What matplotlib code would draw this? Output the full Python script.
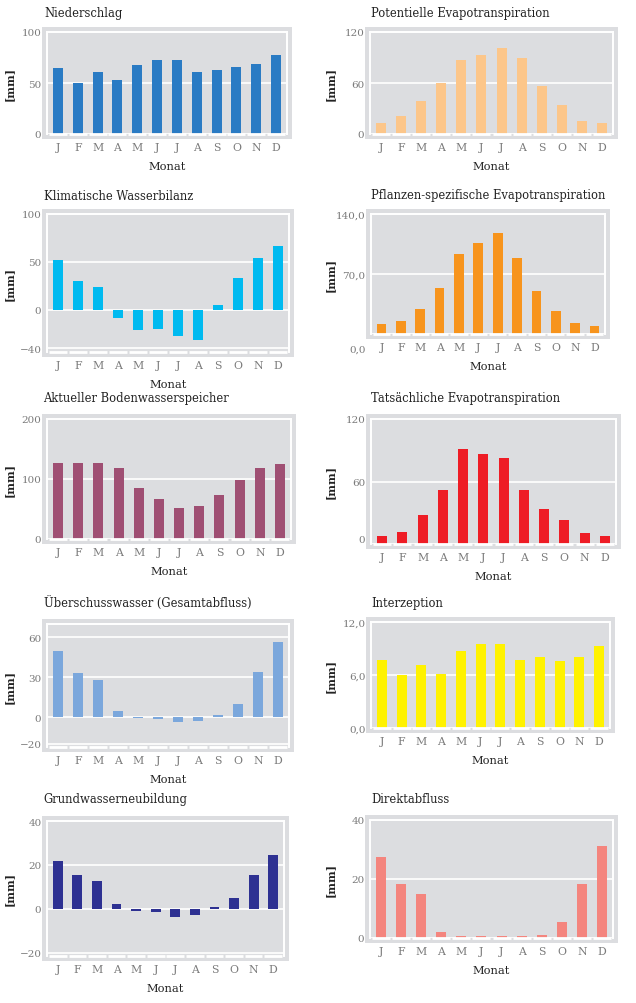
import matplotlib
matplotlib.use("Agg")
import matplotlib.pyplot as plt
import matplotlib.transforms as mtransforms
from matplotlib.patches import Rectangle

plt.rcParams['font.family'] = ['DejaVu Serif']

months = ["J", "F", "M", "A", "M", "J", "J", "A", "S", "O", "N", "D"]

niederschlag = [65, 50, 61, 53, 68, 73, 73, 61, 62.5, 66, 69, 77.5]
pot_evapo = [12.6, 21, 39, 60, 87, 93, 101, 90, 57, 34, 15.7, 12.6]
klim_wasserbilanz = [52, 30, 24, -9, -21, -19.5, -27, -31, 5, 33, 54, 67]
pflanzen_evapo = [11.5, 14.6, 29.2, 53.5, 93.5, 106.5, 117.7, 88.8, 49.6, 27.3, 12.7, 9.6]
bodenwasser = [127, 127, 127, 117.6, 85, 66.7, 51.5, 54.3, 73.4, 98.6, 117.6, 125]
tats_evapo = [7.7, 11.9, 28, 52.3, 91.6, 86.1, 82.3, 52.3, 33.5, 22.9, 10.6, 7.7]
ueberschuss = [50, 33, 27.7, 4.5, -1, -1.8, -3.8, -2.8, 1.5, 10, 34, 56.2]
interzeption = [7.74, 6.0, 7.1, 6.13, 8.74, 9.54, 9.54, 7.74, 8.08, 7.59, 8.08, 9.23]
grundwasser = [22, 15.3, 12.7, 2.4, -1, -1.5, -3.9, -2.7, 1.0, 4.7, 15.3, 24.6]
direktabfluss = [27.3, 18.3, 15, 2.2, 0.6, 0.6, 0.6, 0.6, 0.9, 5.5, 18.3, 31.1]

W, H = 636, 1004
fig = plt.figure(figsize=(W / 100, H / 100), dpi=100)
fig.patch.set_facecolor("white")

BG = "#dcdde0"
TICKC = "#7a7a7a"


def panel(box, values, color, ylim, ticks, ticklabels, title, title_y,
          tick_label_dy=None, label_x=None, title_x=None):
    l, t, r, b = box
    ax = fig.add_axes([l / W, 1 - b / H, (r - l) / W, (b - t) / H])
    ax.set_zorder(2)
    # outer gray band
    pad = 5
    fig.patches.append(Rectangle(((l - pad) / W, 1 - (b + pad) / H),
                                 (r - l + 2 * pad) / W, (b - t + 2 * pad) / H,
                                 transform=fig.transFigure, facecolor=BG,
                                 edgecolor="none", zorder=-5))
    ax.set_facecolor(BG)
    x = list(range(len(months)))
    ax.bar(x, values, width=0.5, color=color, zorder=3)
    ax.set_xlim(-0.55, len(months) - 0.45)
    ax.set_ylim(*ylim)
    for tv in ticks:
        ax.axhline(tv, color="white", lw=1.2, zorder=2)
    for sp in ["left", "top", "right"]:
        ax.spines[sp].set_color("white")
        ax.spines[sp].set_linewidth(1.4)
    ax.spines["bottom"].set_visible(False)
    # segmented bottom line
    for i in x:
        ax.plot([i - 0.45, i + 0.45], [ylim[0], ylim[0]], color="white",
                lw=2, solid_capstyle="butt", clip_on=False, zorder=4)
    ax.set_yticks(ticks)
    ax.set_yticklabels(ticklabels)
    ax.tick_params(axis="y", length=0, pad=4, labelsize=7.5, labelcolor=TICKC)
    ax.set_xticks(x)
    ax.set_xticklabels(months)
    ax.tick_params(axis="x", length=0, pad=6, labelsize=7.8, labelcolor=TICKC)
    ax.set_xlabel("Monat", fontsize=8.2, color="#222222", labelpad=6.5)
    ax.set_ylabel("[mm]", fontsize=8, color="#222222", fontweight="bold")
    if label_x is not None:
        ax.yaxis.set_label_coords((label_x - l) / (r - l), 0.5)
    tx = title_x if title_x is not None else l - 2
    fig.text(tx / W, 1 - title_y / H, title, fontsize=8.3, color="#222222",
             va="center", ha="left")
    if tick_label_dy:
        for lab, dy in tick_label_dy.items():
            lbl = ax.get_yticklabels()[lab]
            lbl.set_transform(lbl.get_transform() +
                              mtransforms.ScaledTranslation(0, dy / 100, fig.dpi_scale_trans))
    return ax


# left column
panel((47, 33, 287, 135), niederschlag, "#2a7bc4", (0, 100), [0, 50, 100],
      ["0", "50", "100"], "Niederschlag", 13, label_x=15, title_x=44)
panel((47, 215, 289, 353), klim_wasserbilanz, "#00baf0", (-44, 100),
      [-40, 0, 50, 100], ["\u221240", "0", "50", "100"], "Klimatische Wasserbilanz",
      196, label_x=15, title_x=44)
panel((47, 420, 291, 540), bodenwasser, "#9f4f73", (0, 200), [0, 100, 200],
      ["0", "100", "200"], "Aktueller Bodenwasserspeicher", 399, label_x=15, title_x=43)
panel((47, 625, 289, 748), ueberschuss, "#7ba7dc", (-22.5, 70), [-20, 0, 30, 60],
      ["\u221220", "0", "30", "60"], "Überschusswasser (Gesamtabfluss)", 604,
      label_x=15, title_x=44)
panel((47, 822, 284, 957), grundwasser, "#2e3192", (-21.5, 40), [-20, 0, 20, 40],
      ["\u221220", "0", "20", "40"], "Grundwasserneubildung", 800, label_x=15, title_x=43)

# right column
panel((370, 33, 613, 135), pot_evapo, "#fcc68a", (0, 120), [0, 60, 120],
      ["0", "60", "120"], "Potentielle Evapotranspiration", 13, label_x=336, title_x=371)
panel((371, 215, 605, 335), pflanzen_evapo, "#f7941d", (0, 140), [0, 70, 140],
      ["0,0", "70,0", "140,0"], "Pflanzen-spezifische Evapotranspiration", 196,
      tick_label_dy={0: -14}, label_x=336, title_x=371)
panel((371, 420, 616, 545), tats_evapo, "#ee1c25", (0, 120), [0, 60, 120],
      ["0", "60", "120"], "Tatsächliche Evapotranspiration", 399,
      tick_label_dy={0: 5}, label_x=336, title_x=371)
panel((371, 623, 610, 729), interzeption, "#fff200", (0, 12), [0, 6, 12],
      ["0,0", "6,0", "12,0"], "Interzeption", 604, label_x=336, title_x=371)
panel((370, 821, 613, 939), direktabfluss, "#f4857e", (0, 40), [0, 20, 40],
      ["0", "20", "40"], "Direktabfluss", 800, label_x=336, title_x=371)

fig.savefig("out.png", dpi=100, facecolor="white")
